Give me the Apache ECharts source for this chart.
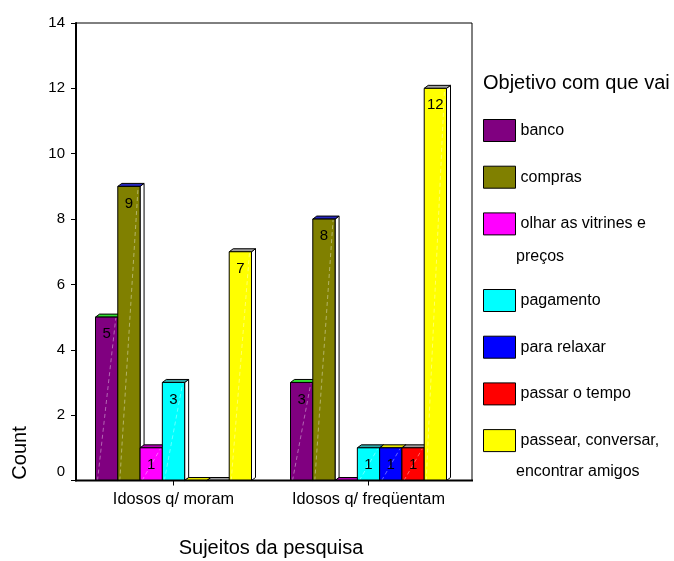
<!DOCTYPE html>
<html>
<head>
<meta charset="utf-8">
<title>Objetivo com que vai</title>
<script src="https://cdn.jsdelivr.net/npm/echarts@6/dist/echarts.min.js"></script>
<style>
  html, body { margin: 0; padding: 0; background: #fff; }
  #chart { width: 674px; height: 561px; }
</style>
</head>
<body>
<div id="chart"></div>
<script>
// Categories on the horizontal axis
const categories = ['Idosos q/ moram', 'Idosos q/ freqüentam'];

// Counts per objective, one value per category
const banco = [5, 3];
const compras = [9, 8];
const olharVitrines = [1, 0];
const pagamento = [3, 1];
const paraRelaxar = [0, 1];
const passarTempo = [0, 1];
const passearConversar = [7, 12];

// Series names (full text) and the lines shown in the legend
const seriesNames = [
  'banco',
  'compras',
  'olhar as vitrines e preços',
  'pagamento',
  'para relaxar',
  'passar o tempo',
  'passear, conversar, encontrar amigos'
];
const legendFirstLine = {
  'olhar as vitrines e preços': 'olhar as vitrines e',
  'passear, conversar, encontrar amigos': 'passear, conversar,'
};
const legendSecondLine = ['preços', 'encontrar amigos'];

// Value axis ticks
const yMin = 0, yMax = 14, yStep = 2;

const seriesValues = [banco, compras, olharVitrines, pagamento, paraRelaxar, passarTempo, passearConversar];
const faceColors = ['#800080', '#808000', '#ff00ff', '#00ffff', '#0000ff', '#ff0000', '#ffff00'];
const topColors  = ['#33dd33', '#2828c0', '#b000b0', '#30a8a8', '#e8e800', '#a0a0a0', '#a0a0a0'];

const FONT = "'Liberation Sans', Arial, Helvetica, sans-serif";
const GRID = { left: 76, right: 208, top: 23, bottom: 80.5 };
const FRAME_RIGHT = 472;
const DEPTH_X = 4, DEPTH_Y = 3;
const GROUP_RATIO = 0.8;   // share of each category band used by the bars

const chart = echarts.init(document.getElementById('chart'), null, { renderer: 'canvas' });

// Draws one 3D-looking bar: front face, top face, white side face and value text
function makeRenderItem(idx) {
  return function (params, api) {
    const catIdx = api.value(0);
    const val = api.value(1);
    const base = api.coord([catIdx, 0]);
    const top = api.coord([catIdx, val]);
    const band = api.size([1, 0])[0];
    const group = band * GROUP_RATIO;
    const w = group / seriesValues.length;
    const x0 = base[0] - group / 2 + idx * w;
    const x1 = x0 + w;
    const yb = base[1];
    const yt = top[1];
    const stroke = { stroke: '#000', lineWidth: 1 };
    const children = [];
    // side face
    children.push({
      type: 'polygon',
      shape: { points: [[x1, yt], [x1 + DEPTH_X, yt - DEPTH_Y], [x1 + DEPTH_X, yb - DEPTH_Y], [x1, yb]] },
      style: Object.assign({ fill: '#ffffff' }, stroke)
    });
    // top face
    children.push({
      type: 'polygon',
      shape: { points: [[x0, yt], [x0 + DEPTH_X, yt - DEPTH_Y], [x1 + DEPTH_X, yt - DEPTH_Y], [x1, yt]] },
      style: Object.assign({ fill: topColors[idx] }, stroke)
    });
    if (val > 0) {
      // front face
      children.push({
        type: 'rect',
        shape: { x: x0, y: yt, width: w, height: yb - yt },
        style: Object.assign({ fill: faceColors[idx] }, stroke)
      });
      // faint diagonal sheen
      children.push({
        type: 'line',
        shape: { x1: x0 + 2, y1: yb, x2: x1 - 2, y2: yt + 1 },
        style: { stroke: 'rgba(255,255,255,0.4)', lineWidth: 1, lineDash: [4, 3] },
        silent: true
      });
      // value text
      children.push({
        type: 'text',
        style: {
          text: String(val),
          x: (x0 + x1) / 2,
          y: yt + 17,
          align: 'center',
          verticalAlign: 'middle',
          fill: '#000',
          font: '15px ' + FONT
        },
        silent: true
      });
    } else {
      children.push({
        type: 'line',
        shape: { x1: x0, y1: yb, x2: x1, y2: yb },
        style: stroke
      });
    }
    return { type: 'group', children: children };
  };
}

const series = seriesNames.map(function (name, i) {
  return {
    type: 'custom',
    name: name,
    renderItem: makeRenderItem(i),
    itemStyle: { color: faceColors[i] },
    encode: { x: 0, y: 1 },
    data: seriesValues[i].map(function (v, j) { return [j, v]; }),
    z: 3
  };
});

const legendCommon = {
  orient: 'vertical',
  left: 483,
  padding: 0,
  itemWidth: 32,
  itemHeight: 22,
  itemGap: 23.7,
  icon: 'rect',
  selectedMode: false,
  itemStyle: { borderColor: '#000', borderWidth: 1 },
  textStyle: { fontSize: 16, color: '#000', fontFamily: FONT },
  formatter: function (name) { return legendFirstLine[name] || name; }
};

const plotBottom = 561 - GRID.bottom;

const option = {
  backgroundColor: '#ffffff',
  animation: false,
  title: {
    text: 'Objetivo com que vai',
    left: 483,
    top: 73.5,
    padding: 0,
    textStyle: { fontSize: 20, fontWeight: 'normal', color: '#000', fontFamily: FONT }
  },
  legend: [
    Object.assign({ top: 119, data: seriesNames.slice(0, 3) }, legendCommon),
    Object.assign({ top: 289, data: seriesNames.slice(3) }, legendCommon)
  ],
  grid: {
    left: GRID.left, right: GRID.right, top: GRID.top, bottom: GRID.bottom,
    containLabel: false, outerBoundsMode: 'none'
  },
  xAxis: {
    type: 'category',
    data: categories,
    axisLine: { show: false },
    axisTick: { show: true, alignWithLabel: true, length: 5, lineStyle: { color: '#000' } },
    axisLabel: {
      color: '#000', fontSize: 16.3, fontFamily: FONT, margin: 11,
      interval: 0, hideOverlap: false
    },
    name: 'Sujeitos da pesquisa',
    nameLocation: 'middle',
    nameGap: 58,
    nameTextStyle: { fontSize: 20, color: '#000', fontFamily: FONT },
    splitLine: { show: false }
  },
  yAxis: {
    type: 'value',
    min: yMin,
    max: yMax,
    interval: yStep,
    axisLine: { show: true, lineStyle: { color: '#000', width: 2 } },
    axisTick: { show: true, length: 5, lineStyle: { color: '#000' } },
    axisLabel: {
      color: '#000', fontSize: 15, fontFamily: FONT, margin: 11,
      formatter: function (v) { return v === 0 ? '{low|0}' : String(v); },
      rich: { low: { fontSize: 15, fontFamily: FONT, color: '#000', padding: [0, 0, 18, 0] } }
    },
    splitLine: { show: false }
  },
  graphic: [
    {
      type: 'polyline',
      shape: { points: [[GRID.left, GRID.top], [FRAME_RIGHT, GRID.top], [FRAME_RIGHT, plotBottom]] },
      style: { stroke: '#000', lineWidth: 1, fill: null },
      z: 1, silent: true
    },
    {
      type: 'line',
      shape: { x1: GRID.left - 1, y1: plotBottom, x2: FRAME_RIGHT + 1, y2: plotBottom },
      style: { stroke: '#000', lineWidth: 2 },
      z: 10, silent: true
    },
    {
      type: 'text',
      x: 20, y: 453,
      rotation: Math.PI / 2,
      style: { text: 'Count', align: 'center', verticalAlign: 'middle', fill: '#000', font: '20px ' + FONT },
      silent: true
    },
    {
      type: 'text',
      x: 516, y: 257,
      style: { text: legendSecondLine[0], align: 'left', verticalAlign: 'middle', fill: '#000', font: '16px ' + FONT },
      silent: true
    },
    {
      type: 'text',
      x: 516, y: 472,
      style: { text: legendSecondLine[1], align: 'left', verticalAlign: 'middle', fill: '#000', font: '16px ' + FONT },
      silent: true
    }
  ],
  series: series
};

chart.setOption(option);
</script>
</body>
</html>
